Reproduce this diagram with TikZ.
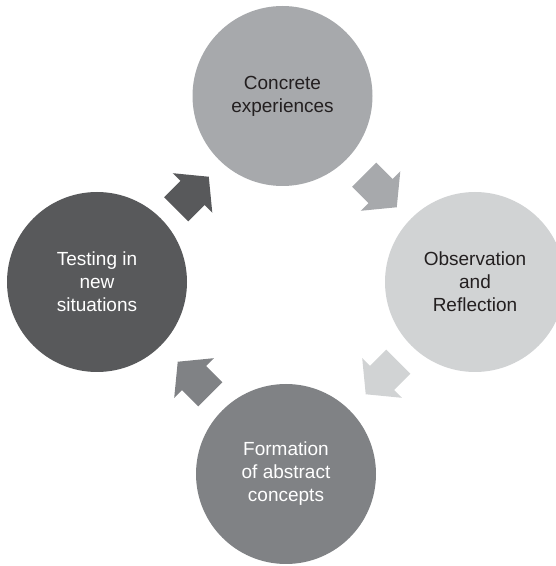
\documentclass[tikz,border=0pt]{standalone}
\usepackage{fontspec}
\setmainfont{Liberation Sans}
\definecolor{cdark}{HTML}{58595B}
\definecolor{cmid}{HTML}{808285}
\definecolor{clmid}{HTML}{A7A9AC}
\definecolor{clight}{HTML}{D1D3D4}
\definecolor{ctext}{HTML}{231F20}
\begin{document}
\begin{tikzpicture}[x=1pt,y=1pt,
  stage/.style={circle, minimum size=180pt, inner sep=0pt, align=center,
    font=\fontsize{19}{23}\selectfont},
  blockarrow/.pic={\fill[pic actions] (-23,-17) -- (0,-17) -- (0,-28) -- (23,0) -- (0,28) -- (0,17) -- (-23,17) -- cycle;}
]
\useasboundingbox (0,0) rectangle (556,566);
\clip (0,0) rectangle (556,566);
\node[stage, fill=clmid, text=ctext] (ce) at (282.5,470) {Concrete\\experiences};
\node[stage, fill=clight, text=ctext] (or) at (475,284) {Observation\\and\\Reflection};
\node[stage, fill=cmid, text=white] (fa) at (286,92) {Formation\\of abstract\\concepts};
\node[stage, fill=cdark, text=white] (tn) at (97,284) {Testing in\\new\\situations};
\coordinate (a1) at (192.5,373);
\coordinate (a2) at (380.5,375);
\coordinate (a3) at (382,188);
\coordinate (a4) at (194,188);
\pic[fill=cdark, rotate=45] at (a1) {blockarrow};
\pic[fill=clmid, rotate=-45] at (a2) {blockarrow};
\pic[fill=clight, rotate=-135] at (a3) {blockarrow};
\pic[fill=cmid, rotate=135] at (a4) {blockarrow};
\end{tikzpicture}
\end{document}
